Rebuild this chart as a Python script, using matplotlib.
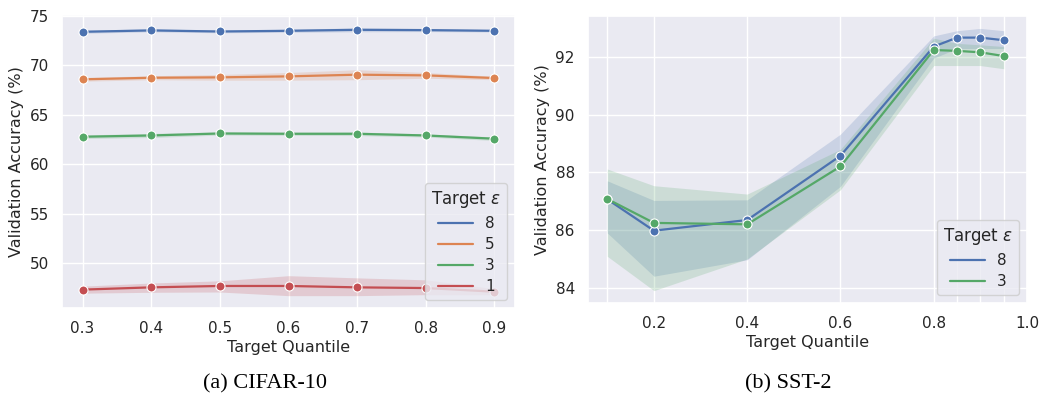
import matplotlib
matplotlib.use("Agg")
import matplotlib.pyplot as plt
from matplotlib.lines import Line2D
import seaborn as sns

sns.set_theme(style="darkgrid", palette="deep")
plt.rcParams["font.family"] = ["DejaVu Sans"]

BLUE, ORANGE, GREEN, RED = "#4C72B0", "#DD8452", "#55A868", "#C44E52"

# ---- CIFAR-10 ----
cifar_q = [0.3, 0.4, 0.5, 0.6, 0.7, 0.8, 0.9]
cifar_eps = ["8", "5", "3", "1"]
cifar_mean = [
    [73.40, 73.54, 73.43, 73.50, 73.60, 73.57, 73.50],
    [68.59, 68.75, 68.79, 68.89, 69.06, 68.99, 68.72],
    [62.78, 62.91, 63.11, 63.08, 63.08, 62.91, 62.58],
    [47.31, 47.54, 47.68, 47.68, 47.54, 47.47, 47.10],
]
cifar_lo = [
    [73.25, 73.40, 73.30, 73.35, 73.40, 73.42, 73.38],
    [68.40, 68.55, 68.50, 68.50, 68.55, 68.70, 68.55],
    [62.60, 62.70, 62.95, 62.92, 62.90, 62.75, 62.40],
    [46.95, 47.04, 47.07, 46.70, 46.70, 46.80, 46.80],
]
cifar_hi = [
    [73.55, 73.70, 73.56, 73.65, 73.80, 73.72, 73.62],
    [68.78, 68.95, 69.08, 69.28, 69.56, 69.28, 68.90],
    [62.96, 63.12, 63.27, 63.24, 63.26, 63.07, 62.76],
    [47.66, 47.98, 48.20, 48.72, 48.50, 48.30, 47.40],
]
cifar_colors = [BLUE, ORANGE, GREEN, RED]

# ---- SST-2 ----
sst_q = [0.1, 0.2, 0.4, 0.6, 0.8, 0.85, 0.9, 0.95]
sst_eps = ["8", "3"]
sst_mean = [
    [87.07, 85.98, 86.35, 88.58, 92.37, 92.68, 92.68, 92.59],
    [87.08, 86.25, 86.20, 88.21, 92.25, 92.22, 92.17, 92.04],
]
sst_lo = [
    [85.90, 84.40, 84.97, 87.52, 91.97, 92.30, 92.30, 92.30],
    [85.09, 83.90, 85.00, 87.40, 91.71, 91.71, 91.71, 91.60],
]
sst_hi = [
    [87.71, 87.03, 87.05, 89.33, 92.74, 92.92, 93.00, 92.92],
    [88.12, 87.54, 87.25, 88.80, 92.66, 92.48, 92.43, 92.37],
]
sst_colors = [BLUE, GREEN]

TXT = "#262626"

fig = plt.figure(figsize=(10.47, 4.04), dpi=100)
ax1 = fig.add_axes([0.0592, 0.2376, 0.4327, 0.7253])
ax2 = fig.add_axes([0.5616, 0.2500, 0.4193, 0.7111])


def draw(ax, xs, labels, means, los, his, colors):
    handles = []
    for lab, m, lo, hi, c in zip(labels, means, los, his, colors):
        ax.fill_between(xs, lo, hi, color=c, alpha=0.2, linewidth=0)
        ax.plot(xs, m, color=c, lw=1.6, marker="o", ms=6.5,
                mec="white", mew=0.8)
        handles.append(Line2D([], [], color=c, lw=1.6))
    leg = ax.legend(handles, labels, title=r"Target $\varepsilon$",
                    loc="lower right", fontsize=11, title_fontsize=12,
                    handlelength=2.3, frameon=True, borderpad=0.4,
                    labelspacing=0.4)
    for t in leg.get_texts():
        t.set_color(TXT)
    leg.get_title().set_color(TXT)
    leg.get_frame().set_facecolor("#EAEAF2")
    leg.get_frame().set_edgecolor("#cccccc")
    ax.set_xlabel("Target Quantile", fontsize=11.5, color=TXT, labelpad=3)
    ax.set_ylabel("Validation Accuracy (%)", fontsize=11.5, color=TXT)
    ax.tick_params(labelsize=11, labelcolor=TXT)


draw(ax1, cifar_q, cifar_eps, cifar_mean, cifar_lo, cifar_hi, cifar_colors)
ax1.set_xticks(cifar_q)
ax1.set_xlim(0.27, 0.93)
ax1.set_yticks([50, 55, 60, 65, 70, 75])
ax1.set_ylim(45.45, 75.1)

draw(ax2, sst_q, sst_eps, sst_mean, sst_lo, sst_hi, sst_colors)
ax2.set_xticks([0.2, 0.4, 0.6, 0.8, 1.0])
ax2.set_xticks([0.1, 0.85, 0.9, 0.95], minor=True)
ax2.grid(True, which="minor", axis="x", color="white", lw=1.0)
ax2.tick_params(which="minor", length=0)
ax2.set_xlim(0.0586, 1.0)
ax2.set_yticks([84, 86, 88, 90, 92])
ax2.set_ylim(83.47, 93.44)

fig.text(265 / 1047, 1 - 384 / 404, "(a) CIFAR-10", ha="center", va="center",
         fontsize=16, family="Liberation Serif", color="black")
fig.text(788 / 1047, 1 - 384 / 404, "(b) SST-2", ha="center", va="center",
         fontsize=16, family="Liberation Serif", color="black")

fig.savefig("out.png", dpi=100)
